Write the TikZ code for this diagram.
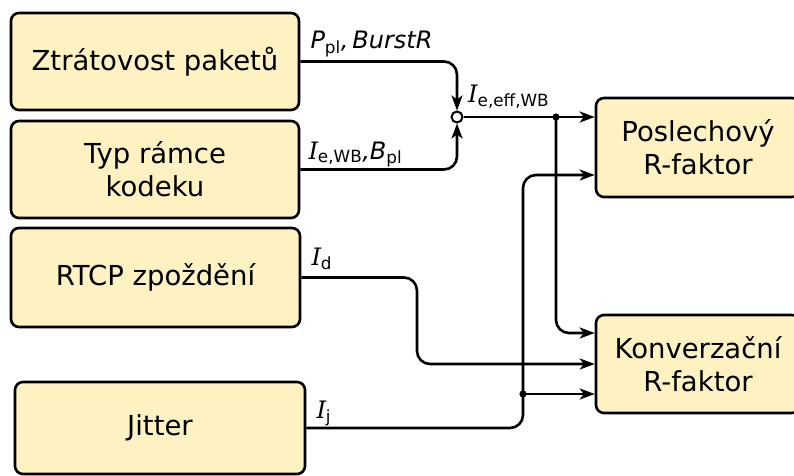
\documentclass[tikz,border=0pt]{standalone}
\usepackage{fontspec}
\usepackage{amsmath}
\setmainfont{DejaVu Sans}
\newfontfamily\patkoveI{DejaVu Serif}
\usetikzlibrary{arrows.meta}
\definecolor{zluta}{RGB}{255,242,194}
\newcommand{\velI}{{\patkoveI\itshape I}}
\newcommand{\dolni}[1]{$_{\text{#1}}$}

\begin{document}
\begin{tikzpicture}[
  x=1pt, y=1pt,
  every node/.style={font=\fontsize{27.5}{33}\selectfont}
]

\tikzset{
    blok/.style={draw=black, line width=2.6pt, fill=zluta, rounded corners=8pt, align=center, inner sep=0pt},
    sipka/.style={line width=2.6pt, rounded corners=13pt, -{Stealth[length=15pt,width=11pt,inset=4pt]}},
    spoj/.style={draw=black, circle, fill=white, line width=2pt, minimum size=11pt, inner sep=0pt},
    popis/.style={font=\fontsize{24}{28}\selectfont, inner sep=0pt, anchor=base west}
}

\useasboundingbox (0,0) rectangle (794,475);

% vstupy
\node[blok, minimum width=288pt, minimum height=97pt] (ztr) at (155,413.5) {Ztrátovost paketů};
\node[blok, minimum width=288pt, minimum height=97pt] (typ) at (155,305.5) {Typ rámce\\kodeku};
\node[blok, minimum width=289pt, minimum height=99pt] (rtcp) at (155.5,197.5) {RTCP zpoždění};
\node[blok, minimum width=290pt, minimum height=92pt] (jit) at (160,47) {Jitter};

% vystupy
\node[blok, minimum width=204pt, minimum height=99pt] (posl) at (698,327.5) {Poslechový\\R-faktor};
\node[blok, minimum width=204pt, minimum height=98pt] (konv) at (698,111) {Konverzační\\R-faktor};

% spoje
\node[spoj] (j) at (457,358) {};
\coordinate (d1) at (556,358);
\coordinate (d2) at (523,81);
\coordinate (ohyb) at (417,150);
\coordinate (p2) at ([yshift=-27.5pt]posl.west);
\coordinate (k1) at ([yshift=31pt]konv.west);
\coordinate (k3) at ([yshift=-30pt]konv.west);

\draw[sipka] (ztr.east) -- (j |- ztr.east) -- (j.north);
\draw[sipka] (typ.east) -- (j |- typ.east) -- (j.south);
\draw[sipka] (j.east) -- (posl.west |- j);
\draw[sipka] (d1) -- (d1 |- k1) -- (k1);
\draw[sipka] (rtcp.east) -- (ohyb |- rtcp.east) -- (ohyb |- konv.west) -- (konv.west);
\draw[sipka] (jit.east) -- (d2 |- jit.east) -- (d2 |- p2) -- (p2);
\draw[sipka] (d2) -- (k3);
\fill (d1) circle (3.6pt);
\fill (d2) circle (3.6pt);

% popisky
\node[popis] (lztr) at ([xshift=10pt,yshift=12.5pt]ztr.east) {\textit{P}\dolni{pl}\textit{,\,BurstR}};
\node[popis] (ltyp) at ([xshift=8pt,yshift=10.5pt]typ.east) {\velI\dolni{e,WB}\textit{,B}\dolni{pl}};
\node[popis] (lj) at ([xshift=11pt,yshift=15pt]j.center) {\velI\dolni{e,eff,WB}};
\node[popis] (lrtcp) at ([xshift=10pt,yshift=12.5pt]rtcp.east) {\velI\dolni{d}};
\node[popis] (ljit) at ([xshift=10pt,yshift=10pt]jit.east) {\velI\dolni{j}};

\end{tikzpicture}
\end{document}
